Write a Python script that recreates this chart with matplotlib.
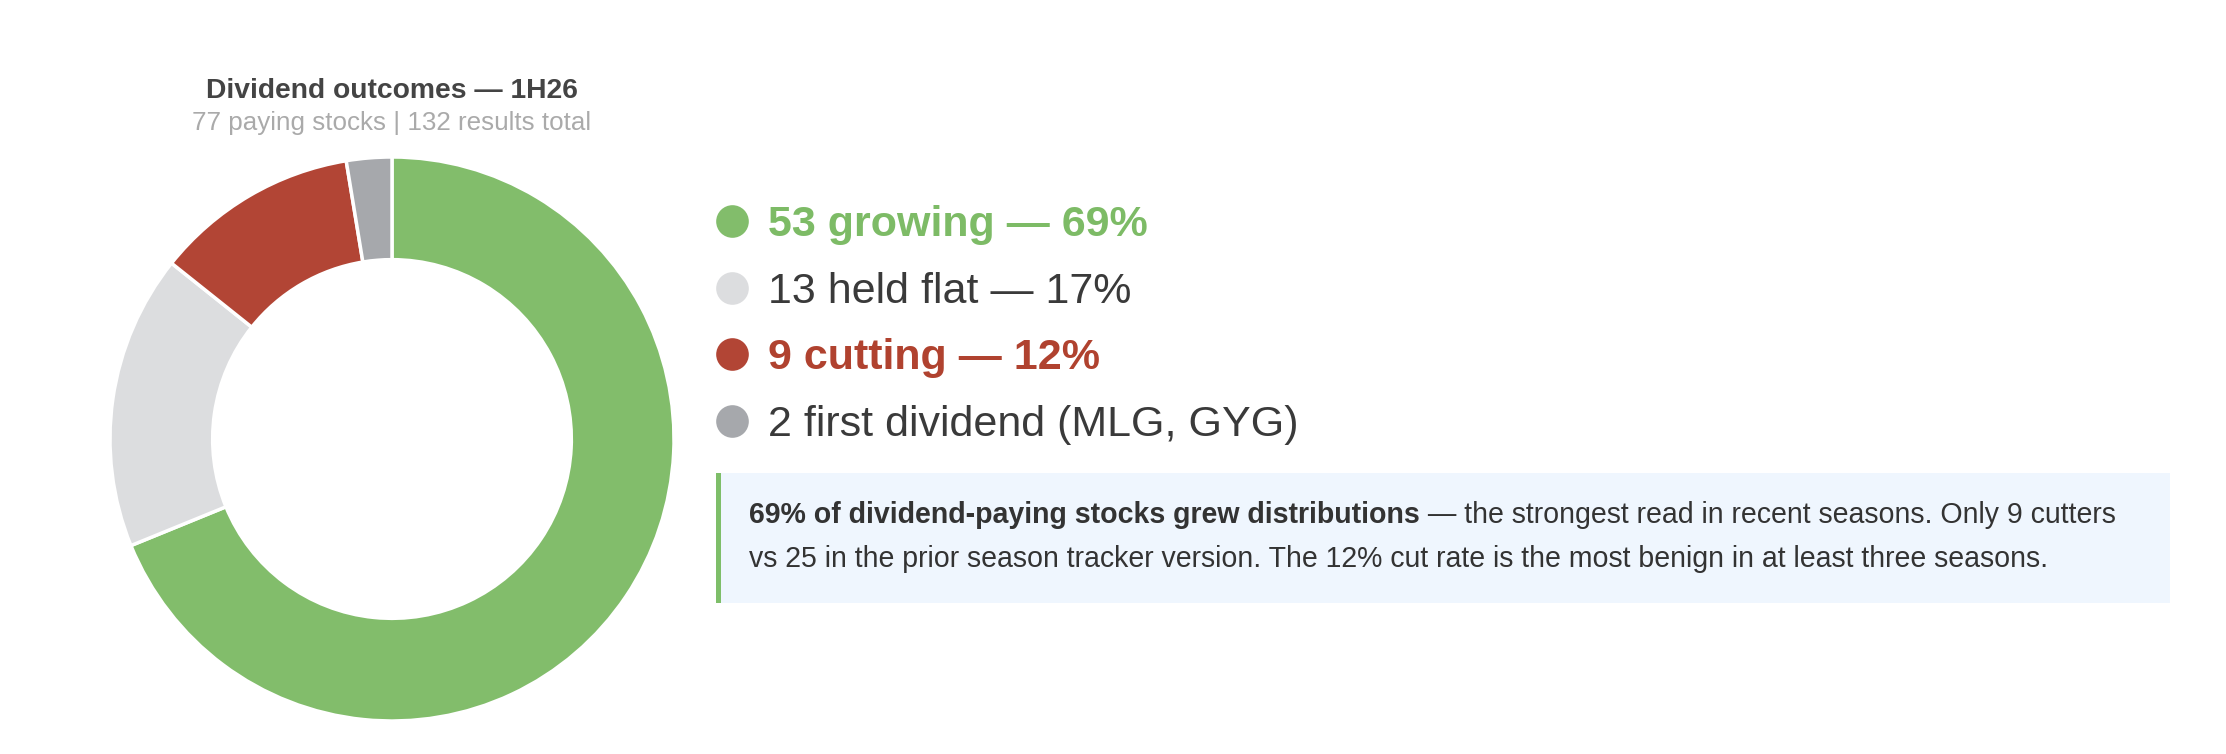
import matplotlib
matplotlib.use("Agg")
import matplotlib.pyplot as plt
from matplotlib.patches import Rectangle
from matplotlib.lines import Line2D

plt.rcParams['font.family'] = ['Liberation Sans', 'DejaVu Sans']

# ---- data ----
categories = ["growing", "held flat", "cutting", "first dividend"]
counts = [53, 13, 9, 2]
legend_labels = ["53 growing \u2014 69%", "13 held flat \u2014 17%",
                 "9 cutting \u2014 12%", "2 first dividend (MLG, GYG)"]
slice_colors = ["#82BD6B", "#DCDDDF", "#B24535", "#A6A8AC"]
label_colors = ["#7DBB66", "#3A3A3A", "#B0422F", "#3A3A3A"]
label_bold = [True, False, True, False]
title = "Dividend outcomes \u2014 1H26"
subtitle = "77 paying stocks | 132 results total"
note_bold = "69% of dividend-paying stocks grew distributions"
note_rest1 = " \u2014 the strongest read in recent seasons. Only 9 cutters"
note_line2 = "vs 25 in the prior season tracker version. The 12% cut rate is the most benign in at least three seasons."

W, H = 2226, 754
fig = plt.figure(figsize=(W / 100, H / 100), dpi=100)
fig.patch.set_facecolor("white")


def fx(x):
    return x / W


def fy(y):
    return 1 - y / H


# ---- donut ----
cx, cy, r = 392, 439, 282
ax = fig.add_axes([fx(cx - r), fy(cy + r), 2 * r / W, 2 * r / H])
ax.pie(counts, colors=slice_colors, startangle=90, counterclock=False,
       radius=1.0, wedgeprops=dict(width=0.364, edgecolor="white", linewidth=2.5))
ax.set_xlim(-1.0, 1.0)
ax.set_ylim(-1.0, 1.0)
ax.set_aspect("equal")
ax.axis("off")

fig.text(fx(cx), fy(98), title, ha="center", va="baseline", fontsize=20.3,
         fontweight="bold", color="#444444")
fig.text(fx(cx), fy(130), subtitle, ha="center", va="baseline", fontsize=18.7,
         color="#AAAAAA")

# ---- legend ----
row_y = [221, 288, 354, 421]
for lbl, sc, tc, b, y in zip(legend_labels, slice_colors, label_colors, label_bold, row_y):
    fig.add_artist(Line2D([fx(732)], [fy(y)], marker="o", markersize=23.5,
                          markerfacecolor=sc, markeredgecolor="none",
                          linestyle="none", transform=fig.transFigure))
    fig.text(fx(768), fy(y + 15), lbl, ha="left", va="baseline", fontsize=31,
             fontweight="bold" if b else "normal", color=tc)

# ---- note box ----
bx0, bx1, by0, by1 = 716, 2170, 473, 603
fig.patches.append(Rectangle((fx(bx0), fy(by1)), fx(bx1 - bx0), (by1 - by0) / H,
                             transform=fig.transFigure, facecolor="#EFF6FE",
                             edgecolor="none"))
fig.patches.append(Rectangle((fx(bx0), fy(by1)), fx(5), (by1 - by0) / H,
                             transform=fig.transFigure, facecolor="#7EBE69",
                             edgecolor="none"))
note_fs = 20.55
t1 = fig.text(fx(749), fy(523), note_bold, ha="left", va="baseline", fontsize=note_fs,
              fontweight="bold", color="#333333")
fig.canvas.draw()
bb = t1.get_window_extent(renderer=fig.canvas.get_renderer())
fig.text(bb.x1 / W, fy(523), note_rest1, ha="left", va="baseline", fontsize=note_fs,
         color="#333333")
fig.text(fx(749), fy(567), note_line2, ha="left", va="baseline", fontsize=note_fs,
         color="#333333")

fig.savefig("out.png", dpi=100, facecolor="white")
